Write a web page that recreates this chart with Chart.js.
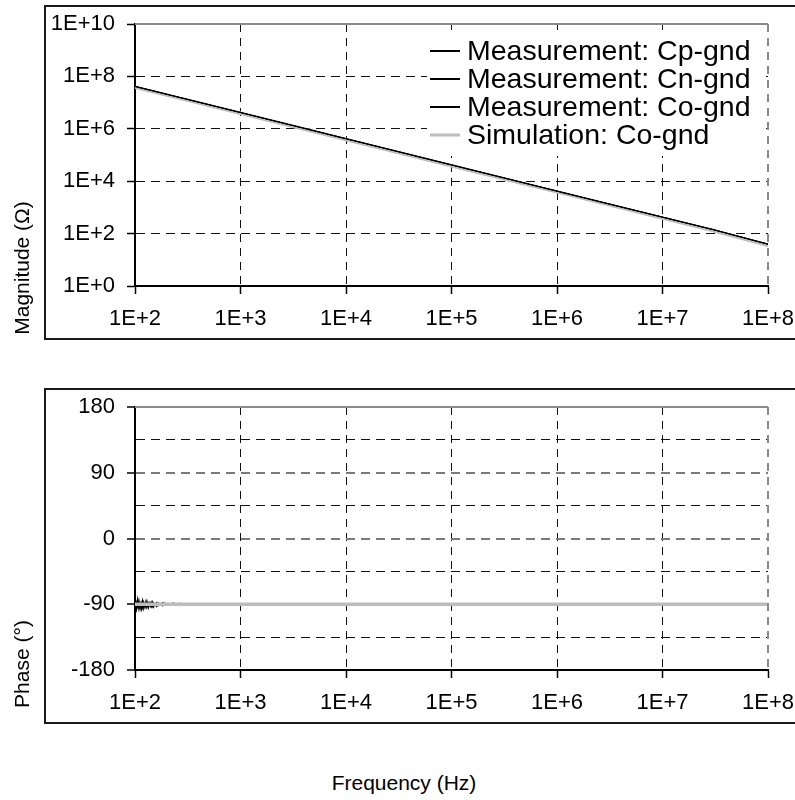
<!DOCTYPE html>
<html><head><meta charset="utf-8">
<script src="https://cdn.jsdelivr.net/npm/chart.js@4.4.1/dist/chart.umd.min.js"></script>
<style>
html,body{margin:0;padding:0;background:#fff;width:795px;height:800px;overflow:hidden;position:relative;font-family:'Liberation Sans',Arial,sans-serif;}
.frame{position:absolute;box-sizing:border-box;border:2px solid #1a1a1a;}
canvas{position:absolute;left:0;}
.ytitle{position:absolute;font-size:21px;white-space:nowrap;transform:translate(-50%,-50%) rotate(-90deg);color:#000;}
</style></head><body>
<div class="frame" style="left:44px;top:5px;width:800px;height:335px"></div>
<div class="frame" style="left:44px;top:388px;width:800px;height:336px"></div>
<canvas id="mag" width="795" height="350" style="top:0"></canvas>
<canvas id="ph" width="795" height="380" style="top:360px"></canvas>
<div class="ytitle" style="left:22px;top:268px">Magnitude (Ω)</div>
<div class="ytitle" style="left:22px;top:664px">Phase (°)</div>
<div style="position:absolute;left:404px;top:783px;transform:translate(-50%,-50%);font-size:21px;white-space:nowrap;color:#000">Frequency (Hz)</div>
<script>
// ---- data ----
const seriesNames = ['Measurement: Cp-gnd','Measurement: Cn-gnd','Measurement: Co-gnd','Simulation: Co-gnd'];
const xTickValues = [1e2,1e3,1e4,1e5,1e6,1e7,1e8];
const magTickValues = [1e0,1e2,1e4,1e6,1e8,1e10];
const phaseTickValues = [-180,-90,0,90,180];

const magFreq = [1e2,3e2,1e3,3e3,1e4,3e4,1e5,3e5,1e6,3e6,1e7,3e7,1e8];
const magCp  = [4.2e7,1.40e7,4.2e6,1.40e6,4.2e5,1.40e5,4.2e4,1.40e4,4.2e3,1.41e3,4.3e2,1.45e2,40];
const magCn  = [4.1e7,1.38e7,4.15e6,1.39e6,4.15e5,1.39e5,4.15e4,1.39e4,4.15e3,1.39e3,4.2e2,1.42e2,39];
const magCo  = [4.15e7,1.39e7,4.2e6,1.40e6,4.2e5,1.40e5,4.2e4,1.40e4,4.2e3,1.41e3,4.25e2,1.43e2,39.5];
const magSim = [3.9e7,1.30e7,3.9e6,1.30e6,3.9e5,1.30e5,3.9e4,1.30e4,3.9e3,1.30e3,3.9e2,1.30e2,36];

const phFreq = [100,103,106,109,112,115,118,121,124,127,130,134,138,142,146,150,155,160,165,170,176,182,188,194,200,215,230,250,270,290,315,340,370,400,430,470,510,540,1e3,1e4,1e5,1e6,1e7,1e8];
const phCp = [-84,-95,-86,-97,-88,-93,-85,-96,-89,-92,-86,-95,-88,-93,-87,-94,-89,-92,-88,-91,-89,-92,-88,-91,-89,-89.5,-88.5,-89.5,-88.8,-89.6,-89,-89.5,-89.2,-89.6,-89.3,-89.7,-89.5,-89.8,-90,-90,-90,-90,-90,-90];
const phCn = [-97,-87,-94,-85,-96,-88,-95,-87,-93,-86,-94,-88,-92,-87,-93,-88,-91,-88,-92,-89,-91,-88,-91,-89,-90.5,-89,-90.5,-89.2,-90.3,-89.4,-90.2,-89.5,-90.1,-89.6,-90.1,-89.7,-90,-89.8,-90,-90,-90,-90,-90,-90];
const phCo = [-91,-98,-83,-94,-90,-97,-87,-93,-91,-95,-88,-92,-90,-94,-89,-92,-90,-93,-89,-91,-90,-92,-89.5,-91,-90,-89.7,-90.2,-89.6,-90,-89.5,-90,-89.6,-89.9,-89.7,-90,-89.8,-89.9,-90,-90,-90,-90,-90,-90,-90];
const phSimFreq = [1e2,1e3,1e4,1e5,1e6,1e7,1e8];
const phSim = [-90,-90,-90,-90,-90,-90,-90];

// ---- helpers ----
const FONT = "'Liberation Sans', Arial, sans-serif";
const pts = (xs, ys) => xs.map((x, i) => ({x, y: ys[i]}));
const MEAS_COLOR = '#000000';
const SIM_COLOR = '#bdbdbd';

const plotFrame = {
  id: 'plotFrame',
  afterDraw(chart) {
    const {ctx, chartArea: a} = chart;
    ctx.save();
    ctx.strokeStyle = '#8a8a8a';
    ctx.lineWidth = 2;
    ctx.setLineDash([]);
    ctx.beginPath(); ctx.moveTo(a.left, a.top); ctx.lineTo(a.right, a.top); ctx.stroke();
    ctx.setLineDash([8,6]);
    ctx.beginPath(); ctx.moveTo(a.right, a.top); ctx.lineTo(a.right, a.bottom); ctx.stroke();
    ctx.restore();
  }
};

const legendInside = {
  id: 'legendInside',
  beforeDatasetsDraw(chart) {
    const o = chart.options.plugins.legendInside;
    if (!o || !o.show) return;
    const ctx = chart.ctx;
    ctx.save();
    ctx.fillStyle = '#ffffff';
    ctx.fillRect(427, 30, 336, 126);
    ctx.restore();
  },
  afterDraw(chart) {
    const o = chart.options.plugins.legendInside;
    if (!o || !o.show) return;
    const ctx = chart.ctx;
    const rowsY = [51, 79, 107, 135];
    ctx.save();
    ctx.font = '28.5px ' + FONT;
    ctx.textBaseline = 'middle';
    ctx.textAlign = 'left';
    chart.data.datasets.forEach((ds, i) => {
      const y = rowsY[i];
      ctx.strokeStyle = ds.borderColor;
      ctx.lineWidth = ds.legendWidth;
      ctx.setLineDash([]);
      ctx.beginPath(); ctx.moveTo(430, y); ctx.lineTo(460, y); ctx.stroke();
      ctx.fillStyle = '#000';
      ctx.fillText(ds.label, 467, y + 1);
    });
    ctx.restore();
  }
};

const xAxis = (h) => ({
  type: 'logarithmic', min: 1e2, max: 1e8,
  afterBuildTicks: s => { s.ticks = xTickValues.map(v => ({value: v})); },
  afterFit: s => { s.height = h; s.paddingLeft = 0; s.paddingRight = 0; },
  ticks: { callback: v => '1E+' + Math.round(Math.log10(v)), color: '#000', font: {family: FONT, size: 22}, padding: 12, maxRotation: 0, autoSkip: false },
  grid: { color: '#111', lineWidth: 1, tickLength: 8, tickBorderDash: [], tickColor: '#000', tickWidth: 1.5 },
  border: { color: '#000', width: 2, dash: [8,6] }
});

Chart.defaults.font.family = FONT;

new Chart(document.getElementById('mag'), {
  type: 'line',
  data: { datasets: [
    {label: seriesNames[0], data: pts(magFreq, magCp), borderColor: MEAS_COLOR, borderWidth: 1, legendWidth: 2},
    {label: seriesNames[1], data: pts(magFreq, magCn), borderColor: MEAS_COLOR, borderWidth: 1, legendWidth: 2},
    {label: seriesNames[2], data: pts(magFreq, magCo), borderColor: MEAS_COLOR, borderWidth: 1, legendWidth: 2},
    {label: seriesNames[3], data: pts(magFreq, magSim), borderColor: SIM_COLOR, borderWidth: 3.5, legendWidth: 3}
  ]},
  options: {
    responsive: false, animation: false, devicePixelRatio: 1,
    layout: { padding: { top: 24, right: 27, left: 0, bottom: 0 } },
    elements: { point: { radius: 0 }, line: { tension: 0 } },
    plugins: { legend: { display: false }, tooltip: { enabled: false }, legendInside: { show: true } },
    scales: {
      x: xAxis(64),
      y: {
        type: 'logarithmic', min: 1e0, max: 1e10,
        afterBuildTicks: s => { s.ticks = magTickValues.map(v => ({value: v})); },
        afterFit: s => { s.width = 135; s.paddingTop = 0; s.paddingBottom = 0; },
        ticks: { callback: v => '1E+' + Math.round(Math.log10(v)), color: '#000', font: {family: FONT, size: 22}, padding: 12, autoSkip: false },
        grid: { color: '#111', lineWidth: 1, tickLength: 8, tickBorderDash: [], tickColor: '#000', tickWidth: 1.5 },
        border: { color: '#000', width: 2, dash: [9,6] }
      }
    }
  },
  plugins: [plotFrame, legendInside]
});

new Chart(document.getElementById('ph'), {
  type: 'line',
  data: { datasets: [
    {label: seriesNames[3], data: pts(phSimFreq, phSim), borderColor: SIM_COLOR, borderWidth: 3.5},
    {label: seriesNames[0], data: pts(phFreq, phCp), borderColor: MEAS_COLOR, borderWidth: 1.2},
    {label: seriesNames[1], data: pts(phFreq, phCn), borderColor: MEAS_COLOR, borderWidth: 1.2},
    {label: seriesNames[2], data: pts(phFreq, phCo), borderColor: MEAS_COLOR, borderWidth: 1.2}
  ]},
  options: {
    responsive: false, animation: false, devicePixelRatio: 1,
    layout: { padding: { top: 47, right: 27, left: 0, bottom: 0 } },
    elements: { point: { radius: 0 }, line: { tension: 0 } },
    plugins: { legend: { display: false }, tooltip: { enabled: false } },
    scales: {
      x: xAxis(70),
      y: {
        type: 'linear', min: -180, max: 180,
        ticks: { stepSize: 45, callback: v => (phaseTickValues.includes(v) ? String(v) : ''), color: '#000', font: {family: FONT, size: 22}, padding: 12, autoSkip: false },
        afterFit: s => { s.width = 135; s.paddingTop = 0; s.paddingBottom = 0; },
        grid: {
          color: c => (c.tick && c.tick.value % 90 === 0) ? '#7a7a7a' : '#111',
          lineWidth: c => (c.tick && c.tick.value % 90 === 0) ? 2 : 1,
          tickLength: 8, tickBorderDash: [],
          tickColor: c => (c.tick && c.tick.value % 90 === 0) ? '#000' : 'rgba(0,0,0,0)',
          tickWidth: 1.5
        },
        border: { color: '#000', width: 2, dash: [9,6] }
      }
    }
  },
  plugins: [plotFrame]
});
</script>
</body></html>
